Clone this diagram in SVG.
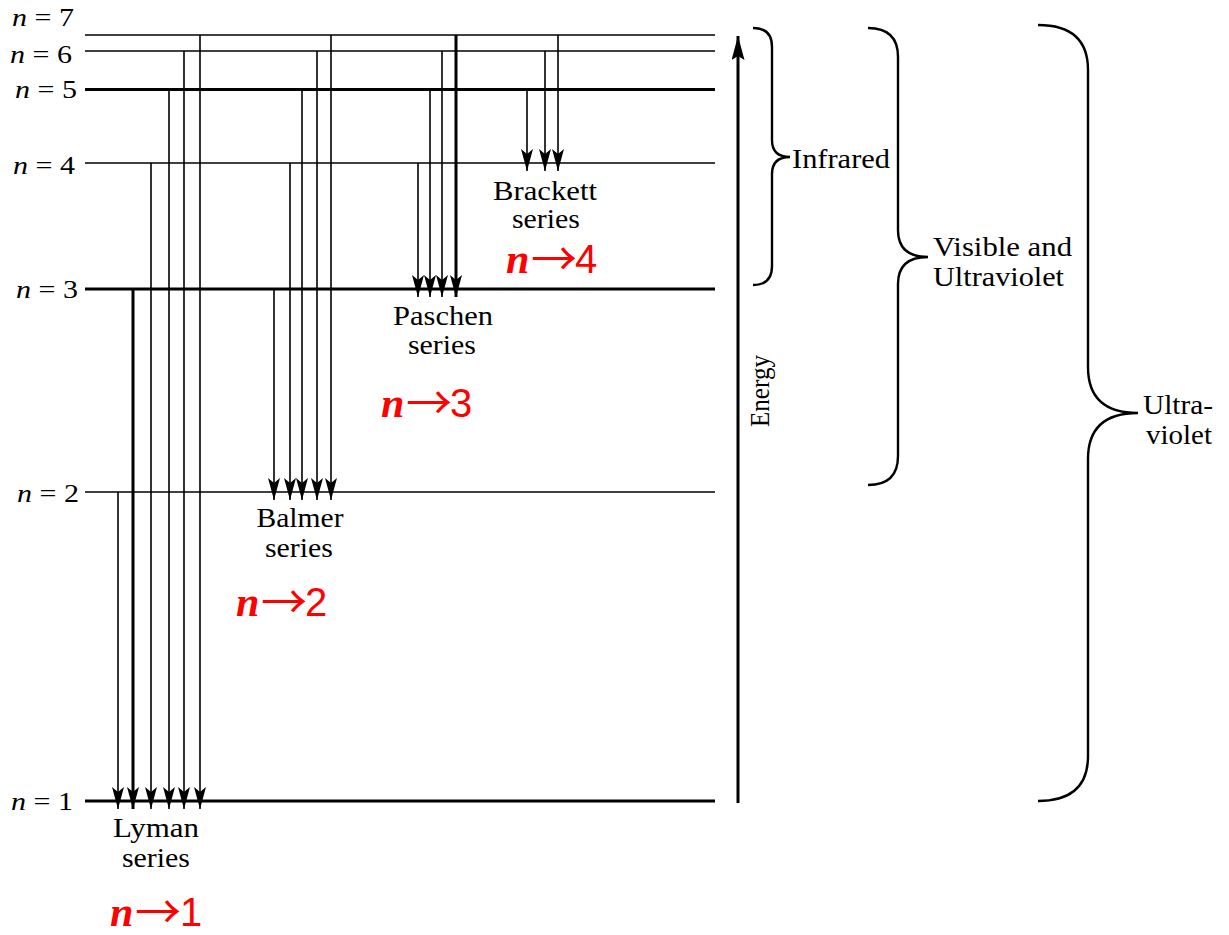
<svg xmlns="http://www.w3.org/2000/svg" width="1229" height="935" viewBox="0 0 1229 935">
<style>
.lv{stroke:#000;stroke-width:1.6;fill:none}
.lvb{stroke:#000;stroke-width:3;fill:none}
.tr{stroke:#000;stroke-width:1.6;fill:none;marker-end:url(#ah)}
.trb{stroke:#000;stroke-width:3;fill:none;marker-end:url(#ah)}
.br{stroke:#000;stroke-width:2.4;fill:none}
.t{font-family:"Liberation Serif","Times New Roman",serif;font-size:27px;fill:#000}
.lab{font-family:"Liberation Serif","Times New Roman",serif;font-size:26px;fill:#000;text-anchor:end}
.ni{font-style:italic}
.red{font-family:"Liberation Sans",Arial,sans-serif;font-size:40px;fill:#ff0000}
.rn{font-family:"Liberation Serif","Times New Roman",serif;font-style:italic;font-weight:bold;font-size:42px}
.ra{font-family:"Noto Sans CJK SC","Noto Sans CJK JP",sans-serif;font-size:46px}
</style>
<defs>
<marker id="ah" viewBox="0 -6 22 12" refX="22" refY="0" markerWidth="22" markerHeight="12" markerUnits="userSpaceOnUse" orient="auto"><path d="M0,-6 L22,0 L0,6 L5,0 Z" fill="#000"/></marker>
<marker id="eh" viewBox="0 -6.5 24 13" refX="24" refY="0" markerWidth="24" markerHeight="13" markerUnits="userSpaceOnUse" orient="auto"><path d="M0,-6.5 L24,0 L0,6.5 L4,0 Z" fill="#000"/></marker>
</defs>
<rect width="1229" height="935" fill="#fff"/>

<g id="level-7"><line class="lv" x1="85" y1="35" x2="715" y2="35"/><text class="lab" x="74" y="26" textLength="62" lengthAdjust="spacingAndGlyphs"><tspan class="ni">n</tspan> = 7</text></g>
<g id="level-6"><line class="lv" x1="85" y1="51" x2="715" y2="51"/><text class="lab" x="72" y="63" textLength="62" lengthAdjust="spacingAndGlyphs"><tspan class="ni">n</tspan> = 6</text></g>
<g id="level-5"><line class="lvb" x1="85" y1="89.5" x2="715" y2="89.5"/><text class="lab" x="77" y="98" textLength="62" lengthAdjust="spacingAndGlyphs"><tspan class="ni">n</tspan> = 5</text></g>
<g id="level-4"><line class="lv" x1="85" y1="163" x2="715" y2="163"/><text class="lab" x="75" y="174" textLength="62" lengthAdjust="spacingAndGlyphs"><tspan class="ni">n</tspan> = 4</text></g>
<g id="level-3"><line class="lvb" x1="85" y1="289" x2="715" y2="289"/><text class="lab" x="78" y="298" textLength="62" lengthAdjust="spacingAndGlyphs"><tspan class="ni">n</tspan> = 3</text></g>
<g id="level-2"><line class="lv" x1="85" y1="492" x2="715" y2="492"/><text class="lab" x="79" y="502" textLength="62" lengthAdjust="spacingAndGlyphs"><tspan class="ni">n</tspan> = 2</text></g>
<g id="level-1"><line class="lvb" x1="85" y1="801" x2="715" y2="801"/><text class="lab" x="73" y="810" textLength="62" lengthAdjust="spacingAndGlyphs"><tspan class="ni">n</tspan> = 1</text></g>

<g id="connectors">
<line class="tr" x1="118" y1="492" x2="118" y2="809"/>
<line class="trb" x1="133" y1="289" x2="133" y2="809"/>
<line class="tr" x1="151" y1="163" x2="151" y2="809"/>
<line class="tr" x1="169" y1="89" x2="169" y2="809"/>
<line class="tr" x1="184" y1="51" x2="184" y2="809"/>
<line class="tr" x1="200" y1="35" x2="200" y2="809"/>
<line class="tr" x1="274" y1="289" x2="274" y2="500"/>
<line class="tr" x1="290" y1="163" x2="290" y2="500"/>
<line class="tr" x1="302" y1="89" x2="302" y2="500"/>
<line class="tr" x1="317" y1="51" x2="317" y2="500"/>
<line class="tr" x1="331" y1="35" x2="331" y2="500"/>
<line class="tr" x1="418" y1="163" x2="418" y2="297"/>
<line class="tr" x1="430" y1="89" x2="430" y2="297"/>
<line class="tr" x1="442" y1="51" x2="442" y2="297"/>
<line class="trb" x1="456" y1="35" x2="456" y2="297"/>
<line class="tr" x1="527" y1="89" x2="527" y2="171"/>
<line class="tr" x1="545" y1="51" x2="545" y2="171"/>
<line class="tr" x1="558" y1="35" x2="558" y2="171"/>
</g>

<g id="series-labels">
<text class="t" x="156" y="837" text-anchor="middle" textLength="86" lengthAdjust="spacingAndGlyphs">Lyman</text>
<text class="t" x="156" y="867" text-anchor="middle" textLength="68" lengthAdjust="spacingAndGlyphs">series</text>
<text class="t" x="300" y="527" text-anchor="middle" textLength="87" lengthAdjust="spacingAndGlyphs">Balmer</text>
<text class="t" x="299" y="557" text-anchor="middle" textLength="68" lengthAdjust="spacingAndGlyphs">series</text>
<text class="t" x="443" y="325" text-anchor="middle" textLength="100" lengthAdjust="spacingAndGlyphs">Paschen</text>
<text class="t" x="442" y="354" text-anchor="middle" textLength="68" lengthAdjust="spacingAndGlyphs">series</text>
<text class="t" x="545" y="200" text-anchor="middle" textLength="104" lengthAdjust="spacingAndGlyphs">Brackett</text>
<text class="t" x="546" y="228" text-anchor="middle" textLength="68" lengthAdjust="spacingAndGlyphs">series</text>
</g>

<g id="red-labels">
<text class="red" y="926"><tspan class="rn" x="110">n</tspan><tspan class="ra" x="135" dy="2">→</tspan><tspan x="180" dy="-2">1</tspan></text>
<text class="red" y="616"><tspan class="rn" x="236">n</tspan><tspan class="ra" x="261" dy="2">→</tspan><tspan x="305" dy="-2">2</tspan></text>
<text class="red" y="417"><tspan class="rn" x="381">n</tspan><tspan class="ra" x="406" dy="2">→</tspan><tspan x="450" dy="-2">3</tspan></text>
<text class="red" y="273"><tspan class="rn" x="506">n</tspan><tspan class="ra" x="531" dy="2">→</tspan><tspan x="575" dy="-2">4</tspan></text>
</g>

<g id="energy-axis">
<line x1="738" y1="803" x2="738" y2="36" stroke="#000" stroke-width="3" marker-end="url(#eh)"/>
<text class="t" transform="translate(769,391) rotate(-90)" text-anchor="middle" textLength="72" lengthAdjust="spacingAndGlyphs">Energy</text>
</g>

<g id="brace-infrared">
<path class="br" d="M753,28 Q772,28 772,47 L772,140 Q772,157 790,157 Q772,157 772,174 L772,266 Q772,285 753,285"/>
<text class="t" x="792" y="168" textLength="98" lengthAdjust="spacingAndGlyphs">Infrared</text>
</g>
<g id="brace-visible">
<path class="br" d="M868,28 Q898,28 898,57 L898,230 Q898,257 928,257 Q898,257 898,284 L898,456 Q898,485 868,485"/>
<text class="t" x="933" y="256" textLength="139" lengthAdjust="spacingAndGlyphs">Visible and</text>
<text class="t" x="933" y="286" textLength="131" lengthAdjust="spacingAndGlyphs">Ultraviolet</text>
</g>
<g id="brace-uv">
<path class="br" d="M1038,25 Q1088,25 1088,70 L1088,367 Q1088,413 1138,413 Q1088,413 1088,459 L1088,756 Q1088,801 1038,801"/>
<text class="t" x="1143" y="414" textLength="70" lengthAdjust="spacingAndGlyphs">Ultra-</text>
<text class="t" x="1146" y="444" textLength="66" lengthAdjust="spacingAndGlyphs">violet</text>
</g>
</svg>
